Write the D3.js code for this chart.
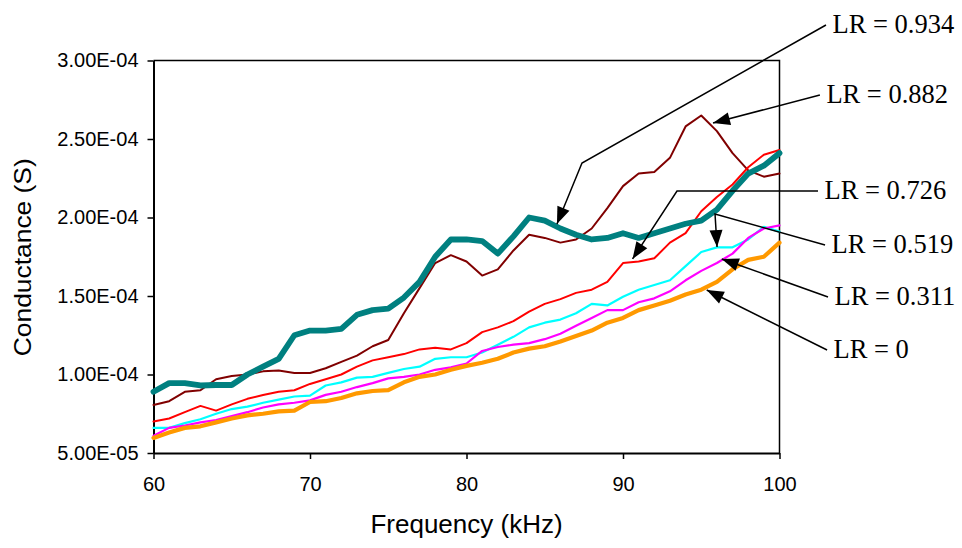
<!DOCTYPE html>
<html>
<head>
<meta charset="utf-8">
<script src="https://cdn.jsdelivr.net/npm/d3@7"></script>
<style>
  html, body { margin: 0; padding: 0; background: #fff; }
  svg { display: block; }
</style>
</head>
<body>
<svg id="chart" width="962" height="548"></svg>
<script>
// Frequency grid (kHz)
const frequencies = [60, 61, 62, 63, 64, 65, 66, 67, 68, 69, 70, 71, 72, 73, 74, 75, 76, 77, 78, 79, 80,
                     81, 82, 83, 84, 85, 86, 87, 88, 89, 90, 91, 92, 93, 94, 95, 96, 97, 98, 99, 100];

// Conductance per loading ratio, in units of 1e-5 S
const lr0 = [5.96, 6.3, 6.6, 6.7, 6.95, 7.2, 7.4, 7.5, 7.65, 7.7, 8.25, 8.3, 8.5, 8.8, 8.95, 9.0, 9.5, 9.85, 10.0, 10.3, 10.55,
             10.75, 11.0, 11.4, 11.65, 11.8, 12.1, 12.45, 12.8, 13.3, 13.6, 14.1, 14.4, 14.7, 15.1, 15.4, 15.9, 16.7, 17.3, 17.5, 18.4];
const lr311 = [6.1, 6.6, 6.75, 6.95, 7.1, 7.35, 7.6, 7.9, 8.1, 8.2, 8.35, 8.7, 8.9, 9.2, 9.45, 9.75, 9.85, 10.0, 10.3, 10.45, 10.7,
               11.5, 11.75, 11.9, 12.0, 12.25, 12.6, 13.1, 13.6, 14.1, 14.1, 14.6, 14.85, 15.3, 16.0, 16.6, 17.1, 17.7, 18.7, 19.3, 19.5];
const lr519 = [6.6, 6.6, 6.9, 7.15, 7.5, 7.8, 7.95, 8.2, 8.4, 8.6, 8.65, 9.3, 9.5, 9.8, 9.85, 10.1, 10.35, 10.5, 11.0, 11.1, 11.1,
               11.4, 11.9, 12.4, 13.0, 13.3, 13.5, 13.9, 14.5, 14.4, 14.95, 15.4, 15.7, 16.0, 16.9, 17.8, 18.1, 18.1, 18.6, 19.4, 19.1];
const lr726 = [7.0, 7.2, 7.6, 8.0, 7.7, 8.1, 8.45, 8.7, 8.9, 9.0, 9.4, 9.7, 10.0, 10.5, 10.9, 11.1, 11.3, 11.6, 11.7, 11.6, 12.0,
               12.7, 13.0, 13.4, 14.0, 14.5, 14.8, 15.2, 15.4, 15.9, 17.1, 17.2, 17.4, 18.4, 19.0, 20.4, 21.3, 22.1, 23.2, 24.0, 24.3];
const lr882 = [8.06, 8.3, 8.9, 9.0, 9.7, 9.9, 10.0, 10.2, 10.25, 10.1, 10.1, 10.4, 10.8, 11.2, 11.8, 12.2, 13.9, 15.5, 17.1, 17.6, 17.2,
               16.3, 16.7, 17.9, 18.9, 18.7, 18.4, 18.6, 19.3, 20.6, 22.0, 22.8, 22.9, 23.8, 25.8, 26.5, 25.5, 24.1, 23.0, 22.6, 22.8];
const lr934 = [8.9, 9.45, 9.45, 9.3, 9.33, 9.33, 10.0, 10.5, 11.0, 12.5, 12.8, 12.8, 12.9, 13.8, 14.1, 14.2, 14.9, 15.9, 17.5, 18.6, 18.6,
               18.5, 17.7, 18.8, 20.0, 19.8, 19.3, 18.9, 18.6, 18.7, 19.0, 18.7, 19.0, 19.3, 19.6, 19.8, 20.5, 21.7, 22.8, 23.3, 24.1];

const seriesLabels = ["LR = 0.882", "LR = 0.726", "LR = 0.519", "LR = 0.311", "LR = 0", "LR = 0.934"];
const seriesValues = [lr882, lr726, lr519, lr311, lr0, lr934];
const seriesColors = ["#800000", "#ff0000", "#00ffff", "#ff00ff", "#ff9900", "#008080"];
const seriesWidths = [2, 2, 2.2, 2.2, 4.2, 5.8];

const xTicks = [60, 70, 80, 90, 100];
const yTicks = [5e-5, 1e-4, 1.5e-4, 2e-4, 2.5e-4, 3e-4];

// Callout labels with leader paths in chart units [kHz, 1e-5 S]: from the label to the arrow tip
const calloutLabels = ["LR = 0.934", "LR = 0.882", "LR = 0.726", "LR = 0.519", "LR = 0.311", "LR = 0"];
const calloutPaths = [
  [[102.97, 32.26], [87.38, 23.47], [85.78, 19.59]],
  [[102.58, 27.80], [95.75, 26.02]],
  [[102.46, 21.69], [93.45, 21.69], [90.61, 17.36]],
  [[102.91, 18.25], [95.88, 20.22], [96.01, 18.12]],
  [[103.10, 14.94], [96.31, 17.36]],
  [[103.04, 11.56], [95.35, 15.38]]
];

const UNIT = 1e-5;
const svg = d3.select("#chart");

const x = d3.scaleLinear().domain([60, 100]).range([153.5, 779.5]);
const y = d3.scaleLinear().domain([5e-5, 3e-4]).range([453, 60.5]);

function sciLabel(v) {
  const [m, e] = v.toExponential(2).split("e");
  const n = +e;
  return m + "E" + (n < 0 ? "-" : "+") + String(Math.abs(n)).padStart(2, "0");
}

// Plot frame (top and right edges)
svg.append("path")
  .attr("d", `M${x(60)},${y(3e-4)}H${x(100)}V${y(5e-5)}`)
  .attr("fill", "none")
  .attr("stroke", "#000")
  .attr("stroke-width", 1.5);

// Axes
const yAxis = d3.axisLeft(y).tickValues(yTicks).tickFormat(sciLabel).tickSize(6).tickSizeOuter(0).tickPadding(9);
const xAxis = d3.axisBottom(x).tickValues(xTicks).tickFormat(d3.format("d")).tickSize(6).tickSizeOuter(0).tickPadding(18);

const gy = svg.append("g").attr("transform", `translate(${x(60)},0)`).call(yAxis);
const gx = svg.append("g").attr("transform", `translate(0,${y(5e-5)})`).call(xAxis);

[gx, gy].forEach(g => {
  g.select(".domain").attr("stroke", "#000").attr("stroke-width", 2);
  g.selectAll(".tick line").attr("stroke", "#000").attr("stroke-width", 1.5);
  g.selectAll(".tick text")
    .attr("fill", "#000")
    .style("font-family", "'Liberation Sans', Arial, sans-serif")
    .style("font-size", "20px");
});

// Series lines
const line = d3.line()
  .x((d, i) => x(frequencies[i]))
  .y(d => y(d * UNIT));

svg.append("g")
  .selectAll("path")
  .data(seriesValues)
  .join("path")
  .attr("d", d => line(d))
  .attr("fill", "none")
  .attr("stroke", (d, i) => seriesColors[i])
  .attr("stroke-width", (d, i) => seriesWidths[i])
  .attr("stroke-linejoin", "round")
  .attr("stroke-linecap", "round");

// Axis titles
svg.append("text")
  .attr("x", (x(60) + x(100)) / 2)
  .attr("y", 533)
  .attr("text-anchor", "middle")
  .style("font-family", "'Liberation Sans', Arial, sans-serif")
  .style("font-size", "26px")
  .text("Frequency (kHz)");

svg.append("text")
  .attr("transform", `translate(23,${(y(5e-5) + y(3e-4)) / 2 + 0.5}) rotate(-90)`)
  .attr("text-anchor", "middle")
  .attr("dy", "0.35em")
  .attr("textLength", 198)
  .attr("lengthAdjust", "spacingAndGlyphs")
  .style("font-family", "'Liberation Sans', Arial, sans-serif")
  .style("font-size", "24px")
  .text("Conductance (S)");

// Arrowhead
svg.append("defs").append("marker")
  .attr("id", "arrowhead")
  .attr("viewBox", "-18 -8 18 16")
  .attr("refX", 0)
  .attr("refY", 0)
  .attr("markerWidth", 18)
  .attr("markerHeight", 16)
  .attr("markerUnits", "userSpaceOnUse")
  .attr("orient", "auto")
  .append("path")
  .attr("d", "M-17,-6.5L0,0L-17,6.5Z")
  .attr("fill", "#000");

// Callouts
const leader = d3.line().x(d => x(d[0])).y(d => y(d[1] * UNIT));
const callouts = svg.append("g");

callouts.selectAll("path")
  .data(calloutPaths)
  .join("path")
  .attr("d", d => leader(d))
  .attr("fill", "none")
  .attr("stroke", "#000")
  .attr("stroke-width", 1.5)
  .attr("marker-end", "url(#arrowhead)");

callouts.selectAll("text")
  .data(calloutLabels)
  .join("text")
  .attr("x", (d, i) => x(calloutPaths[i][0][0]) + 6.5)
  .attr("y", (d, i) => y(calloutPaths[i][0][1] * UNIT) - 1)
  .attr("dy", "0.34em")
  .style("font-family", "'Liberation Serif', 'Times New Roman', serif")
  .style("font-size", "26.5px")
  .text(d => d);
</script>
</body>
</html>
